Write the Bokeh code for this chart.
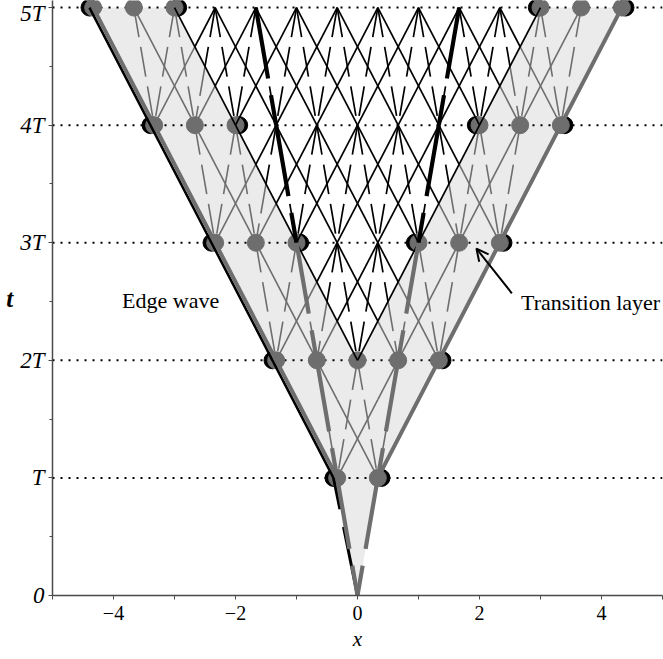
from bokeh.plotting import figure
from bokeh.models import FixedTicker, Range1d, Label, Arrow, OpenHead
from bokeh.embed import file_html
from bokeh.resources import INLINE

# ---------------- data ----------------
LEVELS = [1, 2, 3, 4, 5]                     # t = T, 2T, ... 5T  (T = 1)
Y_TICKS = [0, 1, 2, 3, 4, 5]
Y_TICK_LABELS = ["0", "T", "2T", "3T", "4T", "5T"]
Y_MINOR = [0.5, 1.5, 2.5, 3.5, 4.5]
X_TICKS = [-4, -2, 0, 2, 4]
X_TICK_LABELS = ["\u22124", "\u22122", "0", "2", "4"]
X_MINOR = [-5, -3, -1, 1, 3, 5]

H = 1.0 / 3.0                                # lattice spacing in x
# lattice nodes (x = k*H) on each level
NODES_K = {
    1: [-1, 1],
    2: [-4, -2, 0, 2, 4],
    3: [-7, -5, -3, -1, 1, 3, 5, 7],
    4: [-10, -8, -6, -4, -2, 0, 2, 4, 6, 8, 10],
    5: [-13, -11, -9, -7, -5, -3, -1, 1, 3, 5, 7, 9, 11, 13],
}
# grey (transition-layer) dots
GRAY_K = {
    1: [-1, 1],
    2: [-4, -2, 0, 2, 4],
    3: [-7, -5, -3, 3, 5, 7],
    4: [-10, -8, -6, 6, 8, 10],
    5: [-13, -11, -9, 9, 11, 13],
}
EDGE_K = {1: 1, 2: 4, 3: 7, 4: 10, 5: 13}    # outer edge |k|
INNER_K = {3: 3, 4: 6, 5: 9}                 # inner boundary |k| (black lattice edge)
BLACK_SHIFT = 0.06                           # black dots sit slightly off the grey ones
SOLID_STEPS = [-3, 3]                        # characteristic links (solid)
DASH_STEPS = [-1, 1]                         # slow links (dashed)
WEDGE_START = 2                              # black lattice wedge |x| <= t - 2

LABEL_EDGE = ("Edge wave", -3.86, 2.51)
LABEL_TRANS = ("Transition layer", 2.68, 2.49)
ARROW_TAIL = (2.53, 2.57)
ARROW_HEAD = (1.95, 2.95)

GRAY = "#6e6e6e"
SHADE = "#ebebeb"
FONT = "Liberation Serif"

# ---------------- figure ----------------
p = figure(width=663, height=659, output_backend="svg", toolbar_location=None,
           x_range=Range1d(-5, 5), y_range=Range1d(0, 5.06),
           min_border_left=52, min_border_right=1, min_border_top=0, min_border_bottom=64)
p.outline_line_color = None
p.xgrid.visible = False
p.ygrid.visible = False
p.background_fill_color = "white"
p.border_fill_color = "white"

# shaded region (edge wave + transition layers)
top = max(LEVELS)
left_edge = [(-EDGE_K[n] * H, n) for n in LEVELS]
right_edge = [(EDGE_K[n] * H, n) for n in LEVELS]
poly = [(0, 0)] + left_edge + [(-INNER_K[top] * H, top), (0, WEDGE_START), (INNER_K[top] * H, top)] + right_edge[::-1]
p.patch([q[0] for q in poly], [q[1] for q in poly], fill_color=SHADE, line_color=None)

# dotted horizontal lines
p.segment(x0=[-5] * len(LEVELS), x1=[5] * len(LEVELS), y0=LEVELS, y1=LEVELS,
          line_color="black", line_width=2, line_dash="2 6")


def in_wedge(x, t):
    return t >= WEDGE_START - 1e-9 and abs(x) <= t - WEDGE_START + 1e-6


def split(xa, ta, xb, tb):
    dx, dt = xb - xa, tb - ta
    ss = [0.0, 1.0]
    den = dx - dt
    if abs(den) > 1e-12:
        s = ((ta - WEDGE_START) - xa) / den
        if 1e-9 < s < 1 - 1e-9:
            ss.append(s)
    den = dx + dt
    if abs(den) > 1e-12:
        s = (WEDGE_START - ta - xa) / den
        if 1e-9 < s < 1 - 1e-9:
            ss.append(s)
    ss.sort()
    out = []
    for s0, s1 in zip(ss[:-1], ss[1:]):
        sm = 0.5 * (s0 + s1)
        blk = in_wedge(xa + sm * dx, ta + sm * dt)
        out.append((xa + s0 * dx, ta + s0 * dt, xa + s1 * dx, ta + s1 * dt, blk))
    return out


segs = {("g", "s"): [], ("g", "d"): [], ("b", "s"): [], ("b", "d"): []}
for n in LEVELS[:-1]:
    for k in NODES_K[n]:
        for steps, kind in ((SOLID_STEPS, "s"), (DASH_STEPS, "d")):
            for st in steps:
                k2 = k + st
                if k2 in NODES_K[n + 1]:
                    for (x0, t0, x1, t1, blk) in split(k2 * H, n + 1, k * H, n):
                        segs[("b" if blk else "g", kind)].append((x0, t0, x1, t1))

# black / grey dots
bx, by = [], []
for n in LEVELS:
    e = EDGE_K[n] * H + BLACK_SHIFT
    bx += [-e, e]
    by += [n, n]
    if n in INNER_K:
        i = INNER_K[n] * H - BLACK_SHIFT
        bx += [-i, i]
        by += [n, n]
p.scatter(bx, by, size=17, fill_color="black", line_color="black")
gx, gy = [], []
for n in LEVELS:
    gx += [k * H for k in GRAY_K[n]]
    gy += [n] * len(GRAY_K[n])
p.scatter(gx, gy, size=17, fill_color=GRAY, line_color=GRAY)


def draw(lst, color, width, dash):
    if not lst:
        return
    p.segment(x0=[s[0] for s in lst], y0=[s[1] for s in lst],
              x1=[s[2] for s in lst], y1=[s[3] for s in lst],
              line_color=color, line_width=width, line_dash=dash)


draw(segs[("g", "s")], GRAY, 1.6, "solid")
draw(segs[("g", "d")], GRAY, 1.6, "30 10")
draw(segs[("b", "s")], "black", 1.7, "solid")
draw(segs[("b", "d")], "black", 1.7, "30 10")

# black edge of the edge wave (left)
p.segment(x0=[0], y0=[0], x1=[-(EDGE_K[1] * H + BLACK_SHIFT)], y1=[LEVELS[0]],
          line_color="black", line_width=3, line_dash="70 18")
p.line([-(EDGE_K[n] * H + BLACK_SHIFT) for n in LEVELS], LEVELS, line_color="black", line_width=2.6)

# thick grey outer edges
p.line([q[0] for q in left_edge], [q[1] for q in left_edge], line_color=GRAY, line_width=4)
p.line([q[0] for q in right_edge], [q[1] for q in right_edge], line_color=GRAY, line_width=4)

# thick dashed slow characteristics x = +-t/3
tk = {"black": ([], [], [], []), GRAY: ([], [], [], [])}
for sgn in (-1, 1):
    for n in LEVELS:
        c = "black" if n - 1 >= 3 else GRAY
        tk[c][0].append(sgn * n * H)
        tk[c][1].append(n)
        tk[c][2].append(sgn * (n - 1) * H)
        tk[c][3].append(n - 1)
for c, (a, b, cc, d) in tk.items():
    p.segment(x0=a, y0=b, x1=cc, y1=d, line_color=c, line_width=4.2, line_dash="72 17")

# text labels and arrow
for txt, lx, ly in (LABEL_EDGE, LABEL_TRANS):
    p.add_layout(Label(x=lx, y=ly, text=txt, text_font=FONT, text_font_size="22px",
                       text_baseline="middle", text_align="left", text_color="black"))
p.add_layout(Arrow(end=OpenHead(size=12, line_width=2, line_color="black"),
                   x_start=ARROW_TAIL[0], y_start=ARROW_TAIL[1],
                   x_end=ARROW_HEAD[0], y_end=ARROW_HEAD[1],
                   line_width=2, line_color="black"))

# axes
for ax in (p.xaxis, p.yaxis):
    ax.axis_line_color = "#4a4a4a"
    ax.axis_line_width = 1.5
    ax.major_tick_line_color = "#4a4a4a"
    ax.minor_tick_line_color = "#4a4a4a"
    ax.major_tick_in = 0
    ax.minor_tick_in = 0
    ax.major_tick_out = 4
    ax.minor_tick_out = 4
    ax.major_label_text_font = FONT
    ax.major_label_text_font_size = "20px"
    ax.major_label_text_color = "black"
    ax.axis_label_text_font = FONT
    ax.axis_label_text_color = "black"

p.xaxis.ticker = FixedTicker(ticks=X_TICKS, minor_ticks=X_MINOR)
p.xaxis.major_label_overrides = {t: l for t, l in zip(X_TICKS, X_TICK_LABELS)}
p.xaxis.major_label_standoff = 6
p.xaxis.axis_label = "x"
p.xaxis.axis_label_text_font_size = "21px"
p.xaxis.axis_label_text_font_style = "italic"
p.xaxis.axis_label_standoff = 4

p.yaxis.ticker = FixedTicker(ticks=Y_TICKS, minor_ticks=Y_MINOR)
p.yaxis.major_label_overrides = {t: l for t, l in zip(Y_TICKS, Y_TICK_LABELS)}
p.yaxis.major_label_text_font_style = "italic"
p.yaxis.major_label_text_font_size = "23px"
p.yaxis.minor_tick_out = 3
p.yaxis.major_label_standoff = 4
p.yaxis.axis_label = "t"
p.yaxis.axis_label_text_font_size = "25px"
p.yaxis.axis_label_text_font_style = "bold italic"
p.yaxis.axis_label_orientation = "horizontal"
p.yaxis.axis_label_standoff = 4

open("out.html", "w").write(file_html(p, INLINE))
